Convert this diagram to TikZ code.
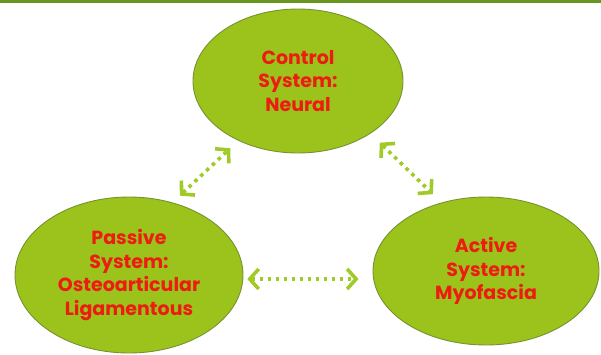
\documentclass[tikz,border=0pt]{standalone}
\usepackage{fontspec}
\setmainfont{Poppins}
\usetikzlibrary{shapes.geometric,arrows.meta}
\definecolor{leaf}{RGB}{156,195,28}
\definecolor{leafedge}{RGB}{118,146,48}
\definecolor{linkgreen}{RGB}{160,202,40}
\definecolor{rule}{RGB}{104,150,30}
\definecolor{label}{RGB}{236,28,16}
\begin{document}
\begin{tikzpicture}[x=1pt,y=-1pt,
  system/.style={ellipse, draw=leafedge, line width=0.9pt, fill=leaf,
    inner sep=0pt, text=label, align=center,
    font=\fontsize{19}{23.5}\selectfont\bfseries},
  barb/.tip={Straight Barb[length=9pt,width=20pt,line width=3.6pt]},
  link/.style={draw=linkgreen, line width=3.6pt,
    dash pattern=on 3.6pt off 4.4pt, barb-barb}]
  \useasboundingbox (0,0) rectangle (601,354);
  % heading rule
  \fill[rule] (0,0) rectangle (601,3);
  % the three systems
  \node[system, minimum width=210pt, minimum height=144pt] (top) at (298,81)
    {Control\\System:\\Neural};
  \node[system, minimum width=228pt, minimum height=156pt] (left) at (129,275)
    {Passive\\System:\\Osteoarticular\\Ligamentous};
  \node[system, minimum width=226pt, minimum height=148pt] (right) at (486,271)
    {Active\\System:\\Myofascia};
  % interactions
  \draw[link, shorten <=10pt, shorten >=11pt] (left.59) -- (top.225);
  \draw[link, shorten <=13pt, shorten >=12pt] (top.-36) -- (right.123);
  \draw[link, shorten <=4pt, shorten >=14pt] (left.-2) -- (left.-2 -| right.west);
\end{tikzpicture}
\end{document}
